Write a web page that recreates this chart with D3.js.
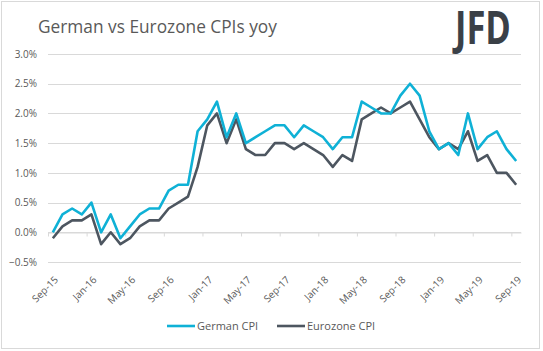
<!DOCTYPE html>
<html>
<head>
<meta charset="utf-8">
<script src="https://cdn.jsdelivr.net/npm/d3@7"></script>
<style>
  body { margin: 0; background: #fff; }
  text { font-family: "Open Sans", sans-serif; }
</style>
</head>
<body>
<script>
// monthly categories, Sep-15 .. Sep-19
const months = [
  'Sep-15', 'Oct-15', 'Nov-15', 'Dec-15',
  'Jan-16', 'Feb-16', 'Mar-16', 'Apr-16', 'May-16', 'Jun-16', 'Jul-16', 'Aug-16', 'Sep-16', 'Oct-16', 'Nov-16', 'Dec-16',
  'Jan-17', 'Feb-17', 'Mar-17', 'Apr-17', 'May-17', 'Jun-17', 'Jul-17', 'Aug-17', 'Sep-17', 'Oct-17', 'Nov-17', 'Dec-17',
  'Jan-18', 'Feb-18', 'Mar-18', 'Apr-18', 'May-18', 'Jun-18', 'Jul-18', 'Aug-18', 'Sep-18', 'Oct-18', 'Nov-18', 'Dec-18',
  'Jan-19', 'Feb-19', 'Mar-19', 'Apr-19', 'May-19', 'Jun-19', 'Jul-19', 'Aug-19', 'Sep-19'
]
const germanCPI = [
  0.0, 0.3, 0.4, 0.3,
  0.5, 0.0, 0.3, -0.1, 0.1, 0.3, 0.4, 0.4, 0.7, 0.8, 0.8, 1.7,
  1.9, 2.2, 1.6, 2.0, 1.5, 1.6, 1.7, 1.8, 1.8, 1.6, 1.8, 1.7,
  1.6, 1.4, 1.6, 1.6, 2.2, 2.1, 2.0, 2.0, 2.3, 2.5, 2.3, 1.7,
  1.4, 1.5, 1.3, 2.0, 1.4, 1.6, 1.7, 1.4, 1.2
]
const eurozoneCPI = [
  -0.1, 0.1, 0.2, 0.2,
  0.3, -0.2, 0.0, -0.2, -0.1, 0.1, 0.2, 0.2, 0.4, 0.5, 0.6, 1.1,
  1.8, 2.0, 1.5, 1.9, 1.4, 1.3, 1.3, 1.5, 1.5, 1.4, 1.5, 1.4,
  1.3, 1.1, 1.3, 1.2, 1.9, 2.0, 2.1, 2.0, 2.1, 2.2, 1.9, 1.6,
  1.4, 1.5, 1.4, 1.7, 1.2, 1.3, 1.0, 1.0, 0.8
]
const yTicks = [-0.5, 0, 0.5, 1.0, 1.5, 2.0, 2.5, 3.0]

const W = 543, H = 351
const margin = { top: 54, right: 22, bottom: 89, left: 48 }
const blue = '#0fb1d6', grey = '#4d5660', textCol = '#595959', gridCol = '#d9d9d9'

const svg = d3.select('body').append('svg')
    .attr('width', W)
    .attr('height', H)

svg.append('rect')
    .attr('x', 1.5).attr('y', 1.5)
    .attr('width', W - 5).attr('height', H - 4)
    .attr('fill', '#fff')
    .attr('stroke', gridCol)

svg.append('text')
    .attr('x', 38).attr('y', 33)
    .attr('font-size', 17.3)
    .attr('fill', textCol)
    .text('German vs Eurozone CPIs yoy')

// logo, squeezed vertically-tall like the original mark
svg.append('text')
    .attr('transform', 'translate(455,44.3) scale(1,1.36)')
    .attr('font-family', 'Liberation Sans, sans-serif')
    .attr('font-weight', 'bold')
    .attr('font-size', 34.5)
    .attr('fill', '#3a4047')
    .text('JFD')

var xScale = d3.scaleBand().domain(months).range([margin.left, W - margin.right]).padding(0)
var yScale = d3.scaleLinear().domain([-0.5, 3.0]).range([H - margin.bottom, margin.top])
const cx = d => xScale(d) + xScale.bandwidth() / 2

// gridlines
svg.append('g').selectAll('line')
    .data(yTicks)
    .enter()
    .append('line')
    .attr('x1', margin.left).attr('x2', W - margin.right)
    .attr('y1', d => Math.round(yScale(d)) + 0.5)
    .attr('y2', d => Math.round(yScale(d)) + 0.5)
    .attr('stroke', gridCol)

var yAxis = d3.axisLeft()
    .scale(yScale)
    .tickValues(yTicks)
    .tickSize(0)
    .tickPadding(11)
    .tickFormat(d => d3.format('.1f')(d) + '%')
const yAxisG = svg.append('g')
    .attr('transform', `translate(${margin.left},0)`)
    .call(yAxis)
yAxisG.select('.domain').remove()
yAxisG.selectAll('text').attr('font-size', 10).attr('fill', textCol).attr('font-family', '"Open Sans", sans-serif')

// category axis on the zero line, ticks every 4 months at category boundaries
const zeroY = Math.round(yScale(0)) + 0.5
var xTickAxis = d3.axisBottom()
    .scale(d3.scaleLinear().domain([0, months.length]).range([margin.left, W - margin.right]))
    .tickValues(d3.range(0, months.length + 1, 4))
    .tickSize(4)
    .tickSizeOuter(0)
    .tickFormat('')
const xTickG = svg.append('g')
    .attr('transform', `translate(0,${zeroY})`)
    .call(xTickAxis)
xTickG.selectAll('line, path').attr('stroke', gridCol)

// category labels at the bottom
const labelMonths = months.filter((m, i) => i % 4 === 0)
svg.append('g').selectAll('text')
    .data(labelMonths)
    .enter()
    .append('text')
    .attr('transform', d => `translate(${cx(d) + 3.5},${H - margin.bottom + 16}) rotate(-45)`)
    .attr('text-anchor', 'end')
    .attr('dy', '0.35em')
    .attr('font-size', 10)
    .attr('fill', textCol)
    .text(d => d)

const line = d3.line()
    .x((d, i) => cx(months[i]))
    .y(d => yScale(d))

svg.append('path')
    .datum(eurozoneCPI)
    .attr('d', line)
    .attr('fill', 'none')
    .attr('stroke', grey)
    .attr('stroke-width', 2.6)
    .attr('stroke-linejoin', 'round')

svg.append('path')
    .datum(germanCPI)
    .attr('d', line)
    .attr('fill', 'none')
    .attr('stroke', blue)
    .attr('stroke-width', 2.6)
    .attr('stroke-linejoin', 'round')

// legend
const legend = [
    { name: 'German CPI', color: blue, x: 167 },
    { name: 'Eurozone CPI', color: grey, x: 277 }
]
const lg = svg.append('g').selectAll('g')
    .data(legend)
    .enter()
    .append('g')
    .attr('transform', d => `translate(${d.x},326)`)
lg.append('line')
    .attr('x1', 0).attr('x2', 28)
    .attr('stroke', d => d.color)
    .attr('stroke-width', 2.6)
lg.append('text')
    .attr('x', 30)
    .attr('dy', '0.35em')
    .attr('font-size', 11)
    .attr('fill', textCol)
    .text(d => d.name)
</script>
</body>
</html>
